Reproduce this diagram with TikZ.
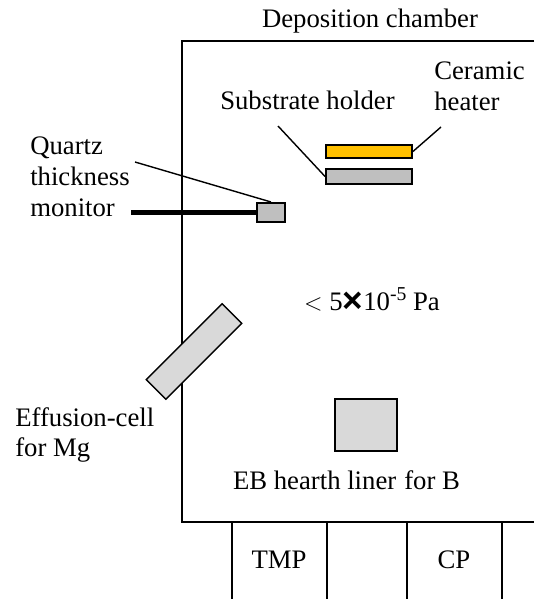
\documentclass[tikz,border=0pt]{standalone}
\usepackage{fontspec}
\setmainfont{Liberation Serif}
\newfontfamily\crossfont{Liberation Sans}
\definecolor{heaterorange}{HTML}{FFC000}
\definecolor{partgray}{HTML}{BFBFBF}
\definecolor{cellgray}{HTML}{D9D9D9}
\tikzset{
    lbl/.style={inner sep=0pt, font=\fontsize{19}{22}\selectfont, align=left},
    part/.style={draw, line width=1.3pt, inner sep=0pt},
}
\begin{document}
\begin{tikzpicture}[x=0.025cm, y=-0.025cm]
\useasboundingbox (0,0) rectangle (534,599);
% chamber, open to the right
\draw[line width=1.4pt](534,41)--(182,41)--(182,522)--(534,522);
\draw[line width=1.4pt](232,522)--(232,599);
\draw[line width=1.4pt](327,522)--(327,599);
\draw[line width=1.4pt](407,522)--(407,599);
\draw[line width=1.4pt](502,522)--(502,599);
% parts
\node (heater) at (369,151.5)[part, fill=heaterorange, minimum width=2.15cm, minimum height=0.33cm]{};
\node (holder) at (369,176.5)[part, fill=partgray, minimum width=2.15cm, minimum height=0.38cm]{};
\node (monitor) at (271,212.5)[part, fill=partgray, minimum width=0.72cm, minimum height=0.48cm]{};
\node (cell) at (194,351.5)[part, fill=cellgray, line width=1pt, rotate=45, minimum width=2.68cm, minimum height=0.69cm]{};
\node (hearth) at (366,425)[part, fill=cellgray, minimum width=1.54cm, minimum height=1.3cm]{};
% connectors
\coordinate (rodend) at (131,212.5);
\coordinate (quartzend) at (135,162);
\coordinate (holderend) at (278,126);
\coordinate (heaterend) at (441,127);
\draw[line width=2.9pt](rodend)--(monitor.west);
\draw[line width=1pt](quartzend)--(monitor.north);
\draw[line width=1pt](holderend)--(holder.west);
\draw[line width=1pt](heaterend)--(heater.east);
% labels
\node (chamberlbl) at (370,21)[lbl]{Deposition chamber};
\node (heaterlbl) at (434,86)[lbl, anchor=west]{Ceramic\\heater};
\node (holderlbl) at (220,100)[lbl, anchor=west]{Substrate holder};
\node (quartzlbl) at (30,177)[lbl, anchor=west]{Quartz\\thickness\\monitor};
\node (pressurelbl) at (372,300)[lbl]{$<$ 5{\crossfont\bfseries\fontsize{25}{25}\selectfont\raisebox{-1.5pt}{×}}10{\fontsize{14}{14}\selectfont\raisebox{0.5em}{-5}} Pa};
\node (celllbl) at (15,435)[lbl, anchor=west]{Effusion-cell\\for Mg};
\node (hearthlbl) at (346.5,480)[lbl]{EB hearth liner\kern1pt\ for B};
\node (tmplbl) at (279,560)[lbl]{TMP};
\node (cplbl) at (454,560)[lbl]{CP};
\end{tikzpicture}
\end{document}
